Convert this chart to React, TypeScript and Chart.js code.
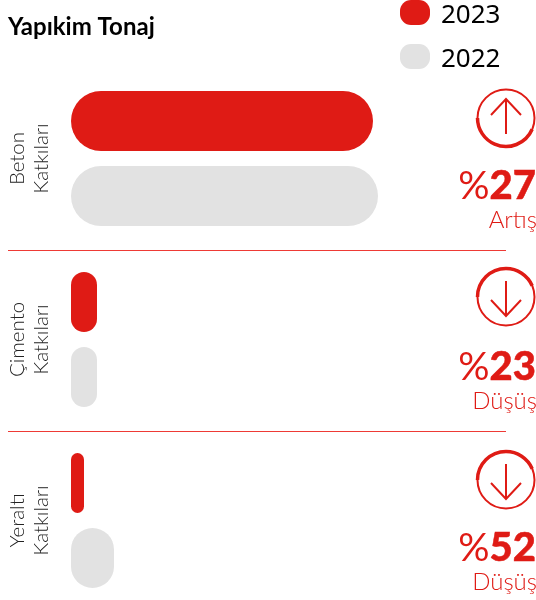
import React, { useEffect, useRef } from "react";
import { Chart, registerables } from "chart.js";

Chart.register(...registerables);

const categories = [["Beton", "Katkıları"], ["Çimento", "Katkıları"], ["Yeraltı", "Katkıları"]];
const values2023 = [302, 26, 13];
const values2022 = [307, 26, 43];
const changePercents = [27, 23, 52];
const changeLabels = ["Artış", "Düşüş", "Düşüş"];
const changeUp = [true, false, false];

const RED = "#DF1B15";
const GREY = "#E2E2E2";

const overlayPlugin = {
  id: "overlay",
  afterLayout(chart: any) {
    chart.titleBlock.left = 8;
  },
  afterDraw(chart: any) {
    const { ctx, chartArea } = chart;
    const yScale = chart.scales.y;
    ctx.save();

    // separators between the groups
    ctx.strokeStyle = "#EE3A35";
    ctx.lineWidth = 1;
    for (let i = 0; i < categories.length - 1; i++) {
      const y = Math.round(yScale.getPixelForValue(i + 0.5)) + 1.5;
      ctx.beginPath();
      ctx.moveTo(8, y);
      ctx.lineTo(chartArea.right, y);
      ctx.stroke();
    }

    // legend
    chart.data.datasets.forEach((ds: any, i: number) => {
      const top = i * 44;
      ctx.fillStyle = ds.backgroundColor;
      ctx.beginPath();
      ctx.roundRect(400, top, 30, 25, 11);
      ctx.fill();
      ctx.fillStyle = "#000";
      ctx.font = '26px "Noto Sans"';
      ctx.textAlign = "left";
      ctx.textBaseline = "alphabetic";
      ctx.fillText(ds.label, 441, top + 23);
    });

    // change badges
    categories.forEach((_, i) => {
      const cy = yScale.getPixelForValue(i);
      const ix = 506;
      const iy = cy - (i === 1 ? 42.5 : 40.5);
      const up = changeUp[i];
      const dir = up ? -1 : 1;
      ctx.strokeStyle = RED;
      ctx.lineWidth = 2;
      ctx.beginPath();
      ctx.arc(ix, iy, 28.5, 0, Math.PI * 2);
      ctx.stroke();
      ctx.lineWidth = 3.5;
      ctx.beginPath();
      if (up) ctx.arc(ix, iy, 28.5, Math.PI * 0.13, Math.PI);
      else ctx.arc(ix, iy, 28.5, Math.PI * 1.0, Math.PI * 1.87);
      ctx.stroke();
      ctx.lineWidth = 2;
      ctx.beginPath();
      ctx.moveTo(ix, iy - dir * 16);
      ctx.lineTo(ix, iy + dir * 19);
      ctx.moveTo(ix - 15, iy + dir * 3);
      ctx.lineTo(ix, iy + dir * 19);
      ctx.lineTo(ix + 15, iy + dir * 3);
      ctx.stroke();

      ctx.fillStyle = RED;
      ctx.strokeStyle = RED;
      ctx.textAlign = "right";
      ctx.textBaseline = "alphabetic";
      const num = String(changePercents[i]);
      ctx.font = '900 40px "Lato"';
      const numW = ctx.measureText(num).width;
      ctx.fillText(num, 536, cy + 40);
      ctx.lineWidth = 0.5;
      ctx.strokeText(num, 536, cy + 40);
      ctx.font = '400 39px "Lato"';
      ctx.fillText("%", 536 - numW, cy + 40);
      ctx.font = '300 24px "Lato"';
      ctx.fillText(changeLabels[i], 537, cy + 69);
    });
    ctx.restore();
  },
};

export default function App() {
  const ref = useRef<HTMLCanvasElement>(null);
  useEffect(() => {
    const chart = new Chart(ref.current as HTMLCanvasElement, {
      type: "bar",
      data: {
        labels: categories as any,
        datasets: [
          { label: "2023", data: values2023, backgroundColor: RED, borderRadius: 40, borderSkipped: false },
          { label: "2022", data: values2022, backgroundColor: GREY, borderRadius: 40, borderSkipped: false },
        ],
      },
      options: {
        indexAxis: "y",
        animation: false,
        responsive: false,
        categoryPercentage: 150 / 181,
        barPercentage: 0.8,
        layout: { autoPadding: false, padding: { left: 0, right: 30, top: 0, bottom: 0 } },
        plugins: {
          legend: { display: false },
          tooltip: { enabled: false },
          title: {
            display: true,
            text: "Yapıkim Tonaj",
            align: "start",
            color: "#000",
            font: { family: "Lato", size: 24, weight: "bold" },
            padding: { top: 12.6, bottom: 26.6 },
          },
        },
        scales: {
          x: { display: false, min: 0, max: 435 },
          y: {
            grid: { display: false },
            border: { display: false },
            afterFit: (axis: any) => {
              axis.width = 71;
              axis.paddingTop = 0;
              axis.paddingBottom = 0;
            },
            ticks: {
              minRotation: 90,
              maxRotation: 90,
              autoSkip: false,
              crossAlign: "center",
              padding: -4,
              color: "#222",
              font: { family: "Lato", size: 20.5, weight: "300", lineHeight: 1.2 },
            },
          },
        },
      } as any,
      plugins: [overlayPlugin],
    });
    return () => chart.destroy();
  }, []);
  return (
    <div style={{ position: "absolute", left: 0, top: 0, width: 536, height: 600, overflow: "hidden", background: "#fff" }}>
      <canvas ref={ref} width={536} height={611} style={{ display: "block" }} />
    </div>
  );
}
